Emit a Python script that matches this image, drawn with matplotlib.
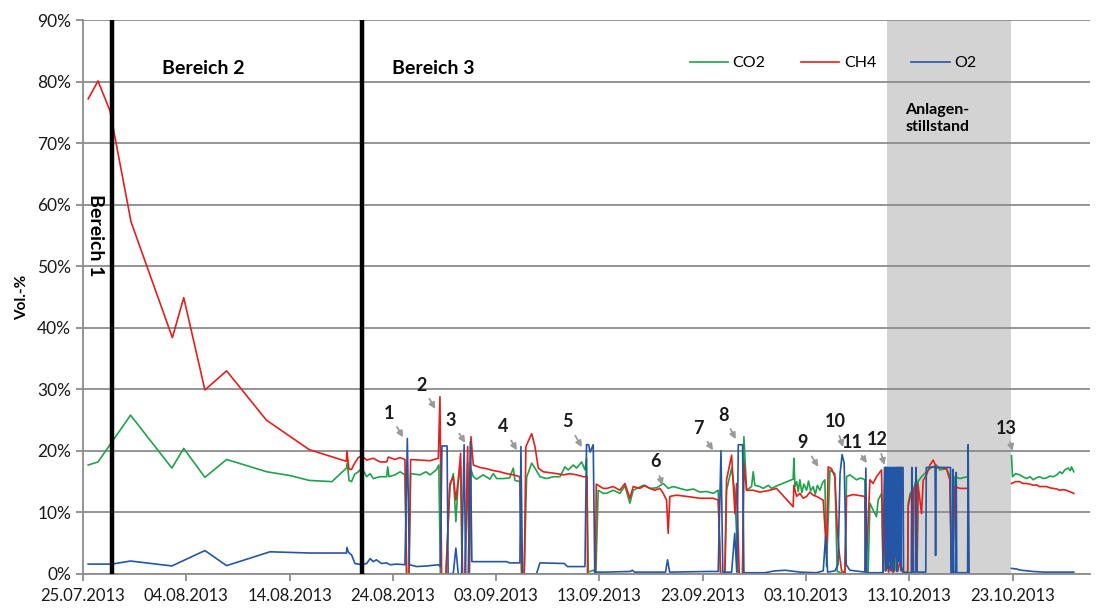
import numpy as np
import pandas as pd
import matplotlib
matplotlib.use("Agg")
import matplotlib.pyplot as plt
import matplotlib.dates as mdates

plt.rcParams['font.family'] = ['Lato', 'DejaVu Sans']

start = pd.Timestamp("2013-07-25")
nan = np.nan

# (Tage seit 25.07.2013, Vol.-%)
co2 = [
    (0.5, 17.7), (1.45, 18.2), (4.6, 25.8), (8.6, 17.2), (9.75, 20.4), (11.8, 15.7), (13.9, 18.6),
    (17.8, 16.6), (20.0, 16.0), (21.9, 15.2), (24.1, 15.0), (25.5, 17.2),
    (25.6, 18.0), (25.75, 15.2), (26.0, 15.0), (26.3, 16.2), (26.65, 16.6), (27.0, 17.2), (27.46, 15.8),
    (27.8, 16.3), (28.1, 15.5), (28.75, 15.8), (29.4, 15.8), (29.5, 17.4), (29.62, 15.8), (30.2, 16.1),
    (30.7, 16.6), (31.17, 16.1), (31.33, 0.0), (31.56, 0.0), (31.72, 16.3), (32.62, 16.1), (33.2, 16.6),
    (33.59, 16.1), (34.2, 16.9), (34.45, 17.7), (34.6, 0.0), (35.14, 0.0), (35.5, 14.0), (35.85, 16.3),
    (36.1, 8.5), (36.33, 15.0), (36.56, 17.5), (36.7, 0.0), (37.0, 0.0), (37.24, 18.0), (37.4, 0.0),
    (37.56, 17.0), (37.79, 15.8),
    (38.11, 15.4), (38.75, 16.1), (39.4, 15.4), (39.72, 16.3), (40.05, 15.5), (40.69, 15.5), (41.3, 15.6),
    (41.66, 17.2), (41.82, 15.2), (42.3, 15.0), (42.47, 0.0), (42.72, 0.0), (42.95, 15.7), (43.44, 18.0),
    (43.76, 17.2), (44.24, 15.8), (44.89, 15.5), (45.53, 15.8), (46.18, 15.8), (46.66, 17.4), (46.98, 16.9),
    (47.47, 17.7), (47.79, 17.2), (48.28, 18.2), (48.6, 16.9), (48.76, 18.8), (48.92, 0.3), (49.4, 0.6),
    (49.66, 0.2), (49.88, 13.6), (50.37, 13.1),
    (50.7, 13.1), (51.34, 13.6), (51.98, 13.1), (52.47, 14.3), (52.95, 11.5), (53.27, 13.6), (54.24, 14.4),
    (54.89, 13.9), (55.54, 14.0), (56.18, 14.7), (56.66, 13.9), (57.14, 14.2), (57.8, 13.9), (58.44, 13.6),
    (59.1, 13.8), (59.73, 13.3), (60.4, 13.4), (61.02, 13.1), (61.5, 13.6), (61.73, 0.0), (62.15, 0.0),
    (62.31, 13.6), (62.8, 17.2), (63.12, 13.1), (63.44, 0.0), (63.86, 0.0), (63.99, 22.3), (64.25, 13.6),
    (64.73, 14.2), (64.89, 16.6), (65.05, 14.4), (65.54, 14.2),
    (65.86, 13.9), (66.35, 14.4), (66.67, 13.9), (67.15, 14.3), (68.76, 15.4), (68.83, 18.8), (68.93, 14.2),
    (69.1, 15.0), (69.25, 13.4), (69.41, 15.3), (69.6, 13.2), (69.8, 14.6), (70.06, 13.6), (70.25, 15.1),
    (70.45, 13.5), (70.7, 14.2), (70.9, 12.9), (71.1, 14.4), (71.35, 13.6), (71.6, 14.8), (71.83, 15.3),
    (71.99, 1.2), (72.32, 16.9), (72.8, 16.3), (73.02, 0.4), (73.77, 0.0), (73.93, 15.8), (74.25, 16.1),
    (74.9, 15.3), (75.3, 15.6), (75.7, 15.3), (75.8, 0.0), (76.02, 0.0), (76.19, 11.5), (76.5, 10.4),
    (76.83, 9.3), (76.99, 12.0), (77.32, 13.1), (77.47, 0.0),
    (77.6, 12.0), (77.7, 0.5), (78.0, 5.5), (78.2, 1.0), (78.44, 6.0), (78.6, 0.5), (78.9, 5.0),
    (79.09, 1.5), (79.41, 0.3), (79.85, 0.3), (79.9, 11.5), (80.1, 13.1), (80.3, 13.6), (80.35, 0.5),
    (80.45, 14.0), (80.7, 15.5), (80.75, 0.5), (80.85, 15.0), (81.19, 15.8), (81.67, 16.6), (82.0, 17.1),
    (82.32, 17.4), (82.64, 17.7), (82.96, 16.9), (83.6, 17.1), (83.93, 16.0), (84.09, 0.3), (84.2, 0.3),
    (84.41, 15.8), (84.9, 15.5), (85.38, 15.7), (85.6, 15.8), (85.7, nan),
    (89.9, 19.2), (90.0, 15.8), (90.3, 16.3), (90.7, 16.1), (91.0, 15.8), (91.35, 15.5), (91.7, 15.8),
    (92.0, 15.3), (92.3, 15.6), (92.6, 15.8), (93.0, 15.5), (93.3, 15.6), (93.6, 15.9), (93.93, 15.8),
    (94.3, 16.1), (94.58, 16.6), (94.8, 16.3), (95.06, 16.9), (95.38, 17.2), (95.6, 16.8), (95.71, 17.4),
    (95.93, 16.6),
]

ch4 = [
    (0.5, 77.2), (1.45, 80.1), (2.6, 75.3), (4.65, 57.2), (8.65, 38.4), (9.75, 44.9), (11.8, 29.9),
    (13.9, 33.0), (17.75, 25.0), (21.9, 20.2), (25.5, 18.3), (25.55, 20.0), (25.75, 17.0), (26.0, 17.0),
    (26.3, 18.0), (26.65, 18.9), (26.98, 19.2), (27.46, 18.5), (28.1, 18.8), (28.75, 18.2), (29.4, 18.2),
    (29.56, 19.0), (30.2, 18.6), (30.69, 18.9), (31.17, 18.6), (31.33, 0.0), (31.56, 0.0), (31.72, 18.6),
    (32.62, 18.5), (33.59, 18.4), (34.4, 18.8), (34.56, 28.8), (34.72, 0.0), (35.14, 0.0), (35.53, 14.7),
    (35.85, 15.8), (36.1, 12.0), (36.33, 15.3), (36.56, 19.6), (36.75, 0.0), (36.98, 0.0), (37.24, 20.7),
    (37.4, 0.0), (37.56, 22.3), (37.79, 17.7),
    (38.43, 17.3), (39.08, 17.1), (39.72, 16.8), (40.37, 16.6), (41.02, 16.3), (41.66, 16.1), (42.3, 15.8),
    (42.47, 0.0), (42.72, 0.0), (42.88, 20.7), (43.44, 22.8), (43.76, 20.7), (44.08, 17.2), (44.56, 16.6),
    (45.86, 16.3), (46.5, 16.1), (47.14, 16.3), (47.79, 16.1), (48.43, 15.8), (48.8, 15.8), (48.85, 0.0),
    (49.6, 0.0), (49.7, 14.6), (49.88, 14.4), (50.37, 13.9),
    (50.7, 13.9), (51.34, 14.2), (51.98, 13.6), (52.47, 14.7), (52.95, 12.3), (53.27, 14.2), (53.92, 13.9),
    (54.4, 14.4), (54.89, 13.9), (55.37, 13.6), (55.86, 13.9), (56.18, 13.1), (56.5, 12.0), (56.66, 6.6),
    (56.82, 12.6), (57.47, 12.8), (58.44, 12.6), (59.73, 12.3), (61.02, 12.3), (61.5, 12.0), (61.73, 0.0),
    (62.15, 0.0), (62.31, 15.3), (62.8, 19.3), (63.12, 9.8), (63.28, 14.7), (63.54, 0.0), (63.86, 0.0),
    (63.99, 18.0), (64.25, 13.6), (64.89, 13.6), (65.54, 13.3),
    (65.86, 13.4), (66.5, 13.6), (67.15, 13.9), (68.76, 10.9), (68.83, 14.4), (69.09, 12.6), (69.41, 13.1),
    (69.73, 12.3), (70.06, 12.6), (70.38, 13.3), (70.7, 12.8), (71.02, 12.6), (71.35, 12.3), (71.67, 12.0),
    (71.83, 7.7), (71.99, 3.4), (72.15, 17.4), (72.48, 17.1), (72.8, 15.8), (73.02, 7.7), (73.22, 3.4),
    (73.45, 0.5), (73.77, 0.2), (73.93, 12.6), (74.57, 12.9), (75.7, 12.6), (75.8, 0.5), (76.02, 8.4),
    (76.19, 15.3), (76.5, 14.7), (76.83, 15.8), (77.32, 16.9), (77.47, 0.5),
    (77.64, 16.3), (77.7, 0.5), (77.9, 3.4), (78.0, 0.3), (78.3, 2.5), (78.44, 0.2), (78.7, 4.0),
    (78.9, 0.5), (79.09, 2.0), (79.41, 0.2), (79.85, 0.2), (79.9, 11.0), (80.1, 12.6), (80.3, 13.6),
    (80.35, 0.5), (80.45, 13.6), (80.7, 15.0), (80.75, 0.5), (80.85, 14.5), (81.19, 9.8), (81.35, 15.2),
    (81.67, 16.1), (82.0, 17.7), (82.32, 18.5), (82.64, 17.3), (82.96, 17.3), (83.6, 17.1), (83.93, 15.3),
    (84.09, 0.3), (84.2, 0.3), (84.41, 14.2), (84.9, 13.9), (85.38, 13.9), (85.6, 13.9), (85.7, nan),
    (89.9, 14.7), (90.3, 15.0), (90.7, 15.0), (91.0, 14.7), (91.35, 14.7), (91.7, 14.6), (92.0, 14.4),
    (92.3, 14.5), (92.6, 14.2), (93.0, 14.2), (93.3, 14.2), (93.6, 14.0), (93.93, 13.9), (94.3, 13.8),
    (94.58, 13.6), (94.9, 13.7), (95.2, 13.6), (95.5, 13.4), (95.93, 13.1),
]

o2 = [
    (0.5, 1.6), (2.8, 1.6), (4.6, 2.1), (8.6, 1.3), (11.8, 3.8), (13.9, 1.35), (18.1, 3.6), (22.0, 3.4),
    (25.5, 3.4), (25.55, 4.3), (25.7, 3.5), (26.0, 3.1), (26.33, 1.7), (26.98, 1.5), (27.46, 1.7),
    (27.8, 2.5), (28.1, 2.0), (28.4, 2.3), (28.9, 1.7), (29.4, 1.8), (29.7, 1.5), (30.4, 1.6), (31.17, 1.5),
    (31.4, 22.0), (31.6, 1.5), (32.3, 1.2), (33.3, 1.3), (34.4, 1.5), (34.6, 1.2), (34.75, 20.8),
    (35.25, 20.8), (35.35, 0.0), (35.85, 0.1), (36.1, 4.2), (36.33, 0.0), (36.65, 0.0), (36.9, 21.0),
    (37.05, 0.0), (37.3, 0.0), (37.5, 21.5), (37.65, 2.0), (41.0, 2.0), (41.3, 1.8), (42.3, 1.8),
    (42.4, 20.7), (42.55, 0.0), (43.9, 0.0), (44.24, 1.8), (46.6, 1.7), (46.9, 1.2), (48.6, 1.2),
    (48.75, 21.0), (48.95, 21.0), (49.1, 19.8), (49.4, 21.0), (49.55, 0.3), (50.5, 0.3), (52.95, 0.4),
    (53.2, 0.6), (53.4, 0.3), (56.4, 0.3), (56.6, 2.3), (56.8, 0.3), (60.5, 0.4), (61.5, 0.4),
    (61.77, 20.0), (61.95, 0.3), (62.8, 0.3), (63.1, 6.6), (63.3, 0.3), (63.45, 21.0), (63.86, 21.0),
    (63.99, 0.2), (66.0, 0.2), (67.0, 0.5), (68.0, 0.6), (68.5, 0.5), (69.41, 0.3), (71.0, 0.2),
    (71.67, 0.5), (71.9, 6.1), (72.1, 0.3), (72.8, 0.5), (73.1, 1.5), (73.3, 16.3), (73.5, 19.4),
    (73.7, 18.0), (73.9, 1.5), (74.25, 0.6), (75.7, 0.3), (75.8, 17.2), (75.9, 0.2), (77.47, 0.2),
    (77.6, 17.3), (77.7, 17.3), (77.72, 0.5), (77.75, 17.3), (77.85, 17.3), (77.87, 1.0), (77.9, 17.3),
    (77.98, 0.8), (78.02, 17.3), (78.1, 17.3), (78.12, 2.0), (78.16, 17.3), (78.25, 17.2), (78.27, 0.5),
    (78.3, 17.3), (78.38, 1.5), (78.42, 17.3), (78.5, 17.3), (78.52, 0.5), (78.56, 17.3), (78.66, 3.0),
    (78.7, 17.3), (78.8, 17.3), (78.83, 0.4), (78.87, 17.3), (79.0, 17.3), (79.03, 2.0), (79.07, 17.3),
    (79.2, 17.3), (79.22, 0.5), (79.26, 17.3), (79.4, 17.3), (79.45, 0.2), (80.2, 0.2), (80.25, 17.3),
    (80.35, 0.3), (80.6, 0.3), (80.65, 17.3), (80.75, 0.3), (81.6, 0.3), (81.65, 17.3), (82.5, 17.4),
    (82.55, 3.0), (82.6, 17.3), (84.0, 17.3), (84.05, 0.2), (84.2, 0.2), (84.25, 17.0), (84.3, 0.3),
    (84.5, 0.3), (84.55, 16.5), (84.6, 0.2), (85.65, 0.2), (85.7, 21.0), (85.8, 0.0), (85.9, nan),
    (89.9, 0.9), (90.4, 0.8), (90.8, 0.6), (91.5, 0.5), (92.0, 0.4), (93.0, 0.3), (95.93, 0.3),
]

series = [("CO2", co2, "#1ea34a"), ("CH4", ch4, "#e3211c"), ("O2", o2, "#2456a6")]

# Nummerierte Ereignisse: (Nr, Textposition, Pfeilspitze)
events = [
    ("1", (29.6, 26.1), (31.0, 22.2)), ("2", (32.8, 30.7), (34.1, 26.8)),
    ("3", (35.6, 25.0), (37.0, 21.3)), ("4", (40.7, 23.9), (42.0, 20.1)),
    ("5", (46.9, 24.7), (48.3, 20.6)), ("6", (55.4, 18.2), (56.1, 14.4)),
    ("7", (59.6, 23.7), (61.0, 20.1)), ("8", (62.0, 25.8), (63.2, 21.9)),
    ("9", (69.7, 21.3), (71.2, 17.4)), ("10", (72.8, 24.7), (73.6, 20.6)),
    ("11", (74.5, 21.4), (75.9, 18.0)), ("12", (76.9, 21.8), (77.6, 17.7)),
    ("13", (89.4, 23.7), (90.0, 20.0)),
]

bereich_grenzen = [2.8, 27.05]
stillstand = (77.8, 89.9)


def d(t):
    return start + pd.to_timedelta(t, unit="D")


fig = plt.figure(figsize=(10.97, 6.08), dpi=100)
ax = fig.add_axes([0.0757, 0.056, 0.9936 - 0.0757, 0.967 - 0.056])

ax.axvspan(d(stillstand[0]), d(stillstand[1]), color="#d3d3d3", zorder=0.1, lw=0)
ax.set_axisbelow(True)
ax.grid(axis="y", color="#8c8c8c", lw=1.3)

for name, data, col in series:
    t = [p[0] for p in data]
    v = [p[1] for p in data]
    ax.plot(d(np.array(t)), v, color=col, lw=1.2, label=name, zorder=2)

for g in bereich_grenzen:
    ax.axvline(d(g), color="black", lw=3.2, zorder=3)

for num, txt, tip in events:
    ax.annotate(num, xy=(d(tip[0]), tip[1]), xytext=(d(txt[0]), txt[1]),
                ha="center", va="center", fontsize=13, fontweight="bold", color="#1a1a1a",
                arrowprops=dict(arrowstyle="-|>", color="#9a9a9a", lw=1.3, mutation_scale=9,
                                shrinkA=2, shrinkB=0), zorder=4)

ax.text(d(11.6), 82.2, "Bereich 2", ha="center", va="center", fontsize=14, fontweight="bold")
ax.text(d(29.9), 82.2, "Bereich 3", ha="left", va="center", fontsize=14, fontweight="bold")
ax.text(d(1.2), 55, "Bereich 1", ha="center", va="center", rotation=-90, fontsize=14, fontweight="bold")
ax.text(d(79.6), 74.0, "Anlagen-\nstillstand", ha="left", va="center", fontsize=11.5,
        fontweight="bold", linespacing=1.3)

ax.set_ylim(0, 90)
ax.set_yticks(range(0, 91, 10))
ax.set_yticklabels([f"{v}%" for v in range(0, 91, 10)])
ax.set_xlim(d(0), d(97.5))
ax.set_xticks([d(10 * i) for i in range(10)])
ax.xaxis.set_major_formatter(mdates.DateFormatter("%d.%m.%Y"))
ax.tick_params(axis="both", labelsize=12, colors="#8c8c8c", labelcolor="#1a1a1a", length=5, width=1.3)
ax.tick_params(axis="y", labelsize=12.5)
ax.tick_params(axis="x", pad=5)

for s in ["top", "right"]:
    ax.spines[s].set_visible(False)
for s in ["left", "bottom"]:
    ax.spines[s].set_color("#8c8c8c")
    ax.spines[s].set_linewidth(1.3)

ax.set_ylabel("Vol.-%", fontsize=11, fontweight="bold", labelpad=6)

ax.legend(loc="center", bbox_to_anchor=(0.745, 0.922), ncol=3, frameon=False, fontsize=11.5,
          handlelength=2.4, columnspacing=2.2, handletextpad=0.3)

fig.savefig("out.png", dpi=100)
